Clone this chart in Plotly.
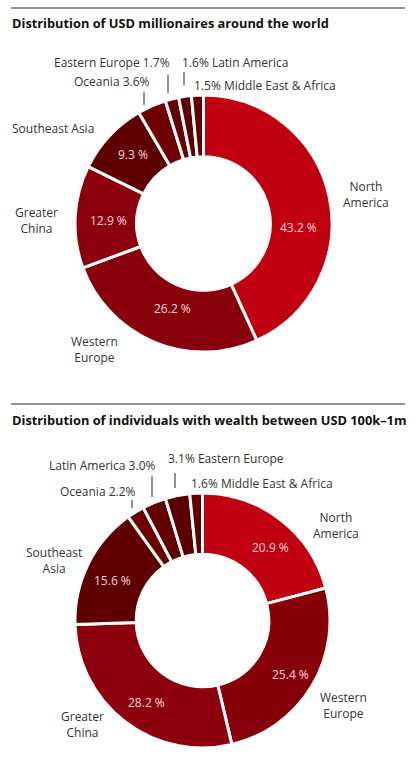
import plotly.graph_objects as go

W, H = 415, 771

# ---- data ----
regions1 = ["North America", "Western Europe", "Greater China", "Southeast Asia",
            "Oceania", "Eastern Europe", "Latin America", "Middle East & Africa"]
values1 = [43.2, 26.2, 12.9, 9.3, 3.6, 1.7, 1.6, 1.5]
colors1 = ["#C00010", "#88000B", "#8C000E", "#5E0000", "#6E0004", "#660000", "#5C0000", "#620000"]

regions2 = ["North America", "Western Europe", "Greater China", "Southeast Asia",
            "Oceania", "Latin America", "Eastern Europe", "Middle East & Africa"]
values2 = [20.9, 25.4, 28.2, 15.6, 2.2, 3.0, 3.1, 1.6]
colors2 = ["#C00010", "#86000A", "#8C000E", "#5E0000", "#6A0000", "#620000", "#5A0000", "#5E0000"]

title1 = "Distribution of USD millionaires around the world"
title2 = "Distribution of individuals with wealth between USD 100k\u20131m"

FONT = "Open Sans"
LABEL_COLOR = "#333333"
INNER_COLOR = "#F6D8DB"


def px(x):
    return x / W


def py(y):
    return 1 - y / H


fig = go.Figure()

# pies: domains in pixel terms (center, radius)
pies = [
    (values1, regions1, colors1, (203.5, 223.5, 128.5)),
    (values2, regions2, colors2, (202.5, 620.5, 127.5)),
]
for vals, labs, cols, (cx, cy, r) in pies:
    fig.add_trace(go.Pie(
        values=vals, labels=labs, sort=False, direction="clockwise", rotation=0,
        hole=0.52, textinfo="none", hoverinfo="label+value",
        marker=dict(colors=cols, line=dict(color="white", width=3)),
        domain=dict(x=[px(cx - r), px(cx + r)], y=[py(cy + r), py(cy - r)]),
        showlegend=False,
    ))

annotations = []
shapes = []


def ann(text, x, y, xanchor="center", color=LABEL_COLOR, size=12):
    annotations.append(dict(text=text, x=px(x), y=py(y), xref="paper", yref="paper",
                            xanchor=xanchor, yanchor="middle", showarrow=False,
                            font=dict(family=FONT, size=size, color=color)))


def two(name):
    parts = name.split(" ", 1)
    return "<br>".join(parts) if len(parts) > 1 else name


# titles and rules
for ty, ry, t in [(23, 8, title1), (420, 404, title2)]:
    shapes.append(dict(type="line", xref="paper", yref="paper", x0=px(11), x1=px(405),
                       y0=py(ry), y1=py(ry), line=dict(color="#6E6E6E", width=1.5)))
    annotations.append(dict(text="<b>" + t + "</b>", x=px(10), y=py(ty), xref="paper", yref="paper",
                            xanchor="left", yanchor="middle", showarrow=False,
                            font=dict(family=FONT, size=12.8, color="#111111")))

# ---- chart 1 labels ----
inner1 = [(298, 227), (172, 308), (108, 220), (133, 155)]
for v, (x, y) in zip(values1[:4], inner1):
    ann(f"{v:.1f} %", x, y, color=INNER_COLOR)
outer1 = [(366, 194), (94, 350), (36, 221), (53, 129)]
for i, (x, y) in enumerate(outer1):
    name = regions1[i] if regions1[i] == "Southeast Asia" else two(regions1[i])
    ann(name, x, y)
ann(f"{regions1[4]} {values1[4]:.1f}%", 152, 82, xanchor="right")
ann(f"{regions1[5]} {values1[5]:.1f}%", 172, 62, xanchor="right")
ann(f"{values1[6]:.1f}% {regions1[6]}", 180, 62, xanchor="left")
ann(f"{values1[7]:.1f}% {regions1[7]}", 192, 85, xanchor="left")
for x, y0, y1 in [(144, 92, 105), (168, 75, 93), (184, 72, 85)]:
    shapes.append(dict(type="line", xref="paper", yref="paper", x0=px(x), x1=px(x),
                       y0=py(y0), y1=py(y1), line=dict(color="#222222", width=1)))

# ---- chart 2 labels ----
inner2 = [(270, 547), (290, 674), (146, 702), (112, 580)]
for v, (x, y) in zip(values2[:4], inner2):
    ann(f"{v:.1f} %", x, y, color=INNER_COLOR)
outer2 = [(336, 525), (343, 705), (82, 724), (54, 560)]
for i, (x, y) in enumerate(outer2):
    ann(two(regions2[i]), x, y)
ann(f"{regions2[4]} {values2[4]:.1f}%", 138, 492, xanchor="right")
ann(f"{regions2[5]} {values2[5]:.1f}%", 157, 466, xanchor="right")
ann(f"{values2[6]:.1f}% {regions2[6]}", 166, 458, xanchor="left")
ann(f"{values2[7]:.1f}% {regions2[7]}", 189, 483, xanchor="left")
for x, y0, y1 in [(132, 500, 508), (152, 476, 497), (175, 473, 488)]:
    shapes.append(dict(type="line", xref="paper", yref="paper", x0=px(x), x1=px(x),
                       y0=py(y0), y1=py(y1), line=dict(color="#222222", width=1)))

fig.update_layout(
    width=W, height=H, margin=dict(l=0, r=0, t=0, b=0),
    paper_bgcolor="white", plot_bgcolor="white",
    annotations=annotations, shapes=shapes,
    font=dict(family=FONT),
)

fig.write_html("out.html", config={"displayModeBar": False})
